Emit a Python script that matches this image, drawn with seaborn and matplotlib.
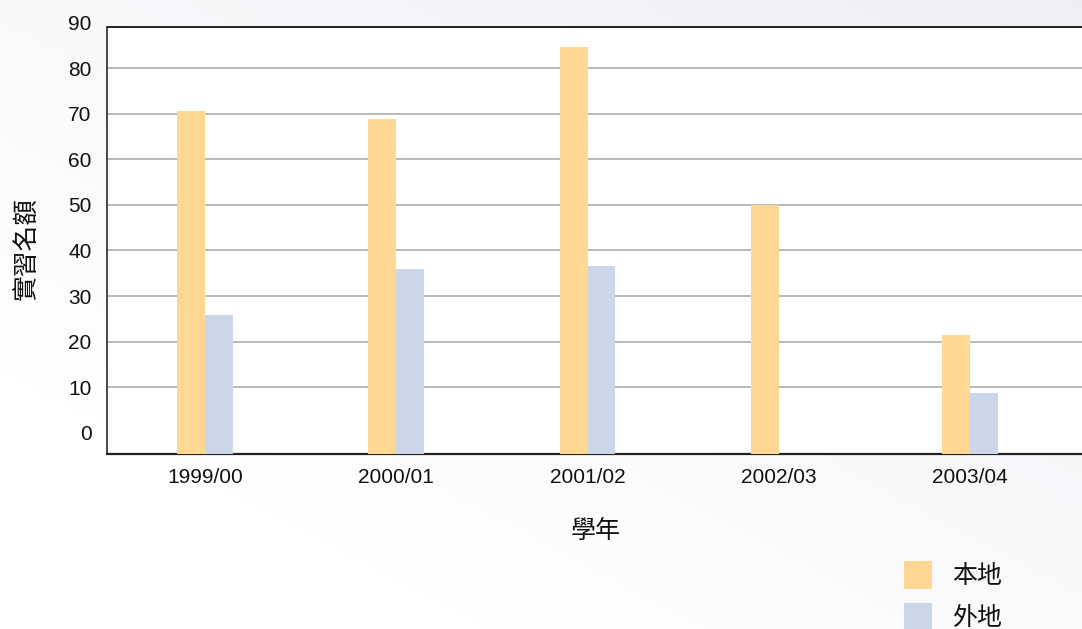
import numpy as np
import pandas as pd
import matplotlib
matplotlib.use("Agg")
import matplotlib.pyplot as plt
import seaborn as sns

# ---- data ----
years = ["1999/00", "2000/01", "2001/02", "2002/03", "2003/04"]
local_vals = [70.6, 68.8, 84.7, 49.9, 21.4]
foreign_vals = [25.8, 36.0, 36.5, np.nan, 8.7]
series_names = ["本地", "外地"]
y_ticks = [0, 10, 20, 30, 40, 50, 60, 70, 80, 90]
x_title = "學年"
y_title = "實習名額"

colors = ["#FED892", "#CBD7E8"]

df = pd.DataFrame({
    "year": years * 2,
    "value": local_vals + foreign_vals,
    "region": [series_names[0]] * len(years) + [series_names[1]] * len(years),
})

sns.set_style("white")
plt.rcParams["font.family"] = ["Liberation Sans", "Noto Sans CJK TC", "DejaVu Sans"]

W, H = 1082, 629
fig = plt.figure(figsize=(W / 100, H / 100), dpi=100)
fig.patch.set_facecolor("white")

# soft background wash (decorative)
bg = fig.add_axes([0, 0, 1, 1], zorder=-5)
yy, xx = np.mgrid[0:1:200j, 0:1:300j]
wash = np.clip(0.55 * xx + 0.6 * (1 - yy) - 0.25, 0, 1)
base = np.array([1.0, 1.0, 1.0])
tint = np.array([0.925, 0.93, 0.955])
img = base[None, None, :] * (1 - wash[..., None]) + tint[None, None, :] * wash[..., None]
bg.imshow(img, aspect="auto", extent=[0, 1, 0, 1], origin="upper")
bg.axis("off")

left_px, right_px, top_px, bottom_px = 107, 1082, 22.4, 453.7
ax = fig.add_axes([left_px / W, 1 - bottom_px / H,
                   (right_px - left_px) / W, (bottom_px - top_px) / H])
ax.patch.set_alpha(0)

# white plot area up to the top frame line
ylo, yhi, ytop_frame = -4.55, 90, 89
ax.axhspan(ylo, ytop_frame, color="white", zorder=-1, linewidth=0)

sns.barplot(data=df, x="year", y="value", hue="region", order=years,
            hue_order=series_names, palette=colors, width=0.292,
            linewidth=0, saturation=1, ax=ax, zorder=3)

ax.set_ylim(ylo, yhi)
ax.set_xlim(-0.512, 4.585)

# bars rise from the bottom of the plot frame, as in the reference
for p in ax.patches:
    h = p.get_height()
    if np.isfinite(h) and h > 0 and p.get_zorder() == 3:
        p.set_y(ylo)
        p.set_height(h - ylo)

leg = ax.get_legend()
handles, labels = ax.get_legend_handles_labels()
if leg is not None:
    leg.remove()

ax.set_yticks(y_ticks)
ax.yaxis.grid(True, color="#a6a6a6", linewidth=1.1, zorder=0)
ax.xaxis.grid(False)
ax.set_axisbelow(True)
ax.tick_params(axis="both", length=0, labelsize=15, colors="#111111")
ax.tick_params(axis="y", pad=11)
ax.tick_params(axis="x", pad=10)
gl = ax.yaxis.get_gridlines()
gl[0].set_visible(False)
gl[-1].set_visible(False)

for s in ["top", "right"]:
    ax.spines[s].set_visible(False)
ax.spines["left"].set_color("#3a3a3a")
ax.spines["left"].set_linewidth(1.3)
ax.spines["left"].set_bounds(ylo, ytop_frame)
ax.spines["bottom"].set_color("#222222")
ax.spines["bottom"].set_linewidth(1.6)
ax.axhline(ytop_frame, color="#111111", linewidth=1.3, zorder=4)

ax.set_xlabel(x_title, fontsize=18, color="#111111")
ax.xaxis.label.set(va="center")
ax.xaxis.set_label_coords((596 - left_px) / (right_px - left_px),
                          (bottom_px - 530.7) / (bottom_px - top_px))
ax.set_ylabel(y_title, fontsize=18.5, color="#111111")
ax.yaxis.label.set(va="center", ha="center", rotation_mode="default")
ax.yaxis.set_label_coords((26 - left_px) / (right_px - left_px),
                          (bottom_px - 249) / (bottom_px - top_px))

fig.legend(handles, labels, loc="upper left",
           bbox_to_anchor=(904 / W, 1 - 561 / H), frameon=False,
           fontsize=18, handlelength=1.12, handleheight=1.35,
           handletextpad=0.8, labelspacing=0.55, borderpad=0,
           borderaxespad=0, labelcolor="#111111")

fig.savefig("out.png", dpi=100)
